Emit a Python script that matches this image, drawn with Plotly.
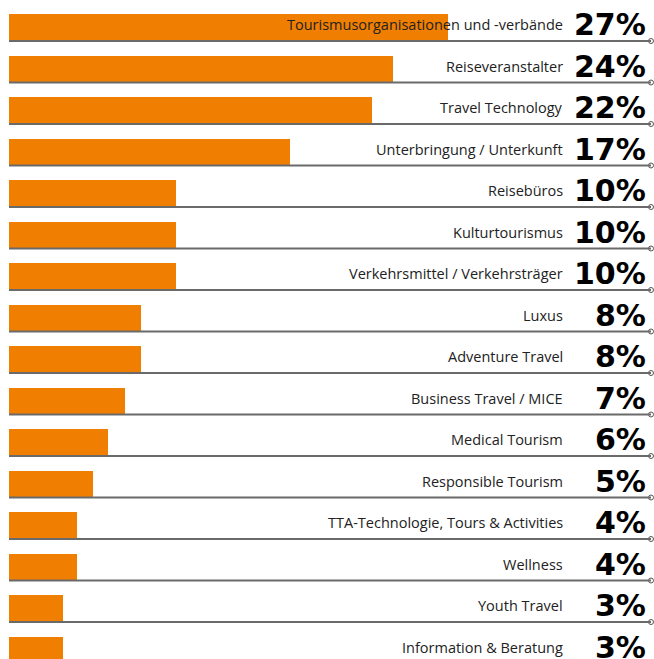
import plotly.graph_objects as go

categories = [
    "Tourismusorganisationen und -verbände",
    "Reiseveranstalter",
    "Travel Technology",
    "Unterbringung / Unterkunft",
    "Reisebüros",
    "Kulturtourismus",
    "Verkehrsmittel / Verkehrsträger",
    "Luxus",
    "Adventure Travel",
    "Business Travel / MICE",
    "Medical Tourism",
    "Responsible Tourism",
    "TTA-Technologie, Tours & Activities",
    "Wellness",
    "Youth Travel",
    "Information & Beratung",
]
# estimated bar lengths (percent)
values = [26.6, 23.3, 22.0, 17.0, 10.1, 10.1, 10.1, 8.0, 8.0, 7.0, 6.0, 5.1, 4.1, 4.1, 3.3, 3.3]
labels = ["27%", "24%", "22%", "17%", "10%", "10%", "10%", "8%", "8%", "7%",
          "6%", "5%", "4%", "4%", "3%", "3%"]

W, H = 654, 659
pitch = 41.5
first_center = 27.5
bar_h = 27
scale = 16.5
x0 = 9

idx = list(range(len(categories)))
ymin = -first_center / pitch
ymax = (H - first_center) / pitch
bw = bar_h / pitch

fig = go.Figure()
fig.add_trace(go.Bar(
    x=values, y=idx, orientation="h", width=bw,
    marker=dict(color="#F07E00", line=dict(width=0)),
    hoverinfo="skip",
))

line_right = 651 / W
shapes = []
for i in idx:
    yb = i + bw / 2
    shapes.append(dict(type="line", xref="paper", yref="y",
                       x0=x0 / W, x1=line_right, y0=yb, y1=yb,
                       line=dict(color="#6a6a6a", width=2), layer="above"))
# end circles
fig.add_trace(go.Scatter(
    x=[(651 - x0) / scale] * len(idx), y=[i + bw / 2 for i in idx],
    mode="markers", marker=dict(symbol="circle-open", size=5,
                                color="#555555", line=dict(width=1)),
    hoverinfo="skip",
))

annotations = []
for i, (c, l) in enumerate(zip(categories, labels)):
    annotations.append(dict(
        x=565 / W, xref="paper", y=i, yref="y", text=c, showarrow=False,
        xanchor="right", yanchor="middle", yshift=3,
        font=dict(family="Open Sans", size=14.5, color="#222222")))
    annotations.append(dict(
        x=648 / W, xref="paper", y=i, yref="y", text="<b>" + l + "</b>",
        showarrow=False, xanchor="right", yanchor="middle", yshift=3,
        font=dict(family="DejaVu Sans", size=30, color="#000000"),
    ))

fig.update_layout(
    width=W, height=H,
    margin=dict(l=0, r=0, t=0, b=0),
    paper_bgcolor="white", plot_bgcolor="white",
    showlegend=False,
    xaxis=dict(range=[-x0 / scale, (W - x0) / scale], visible=False, fixedrange=True),
    yaxis=dict(range=[ymax, ymin], visible=False, fixedrange=True),
    shapes=shapes, annotations=annotations,
    bargap=0,
)
fig.write_html("out.html", config={"displayModeBar": False},
               post_script="document.body.style.margin='0';document.body.style.overflow='hidden';")
